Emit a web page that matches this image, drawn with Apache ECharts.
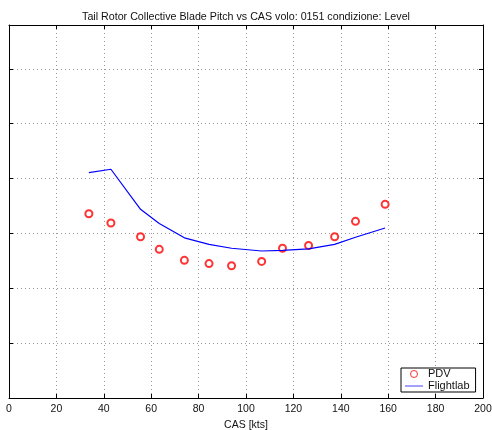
<!DOCTYPE html>
<html>
<head>
<meta charset="utf-8">
<style>
  html, body { margin: 0; padding: 0; background: #fff; }
  #chart { width: 492px; height: 430px; }
</style>
<script src="https://cdn.jsdelivr.net/npm/echarts@6/dist/echarts.min.js"></script>
</head>
<body>
<div id="chart"></div>
<script>
// Calibrated airspeed [kts] of each test point
const cas = [33.7, 43.0, 55.5, 63.4, 74.0, 84.4, 93.9, 106.6, 115.4, 126.4, 137.4, 146.2, 158.7];
// Measured tail rotor collective (PDV)
const pdv = [3.36, 3.19, 2.94, 2.71, 2.51, 2.45, 2.41, 2.49, 2.73, 2.78, 2.94, 3.22, 3.53];
// Simulated tail rotor collective (Flightlab)
const flightlab = [4.11, 4.17, 3.44, 3.18, 2.92, 2.80, 2.73, 2.68, 2.69, 2.72, 2.80, 2.93, 3.10];
const xTicks = [0, 20, 40, 60, 80, 100, 120, 140, 160, 180, 200];

const FONT = 'Liberation Sans, Arial, Helvetica, sans-serif';
const chart = echarts.init(document.getElementById('chart'), null, { renderer: 'canvas' });

// Mirror axes that close the plot box (ticks only, no labels)
const boxAxis = {
  axisLine: { show: true, onZero: false, lineStyle: { color: '#000', width: 1 } },
  axisTick: { show: true, inside: true, length: 4, lineStyle: { color: '#000' } },
  axisLabel: { show: false },
  splitLine: { show: false }
};

chart.setOption({
  animation: false,
  backgroundColor: '#fff',
  textStyle: { fontFamily: FONT },
  title: {
    text: 'Tail Rotor Collective Blade Pitch vs CAS volo: 0151 condizione: Level',
    left: 'center',
    top: 7,
    textStyle: { fontSize: 10.7, fontWeight: 'normal', color: '#111', fontFamily: FONT }
  },
  grid: { left: 9, right: 9, top: 25, bottom: 32, containLabel: false, outerBoundsMode: 'none' },
  xAxis: [
    {
      type: 'value', min: 0, max: 200, interval: 20, position: 'bottom',
      name: 'CAS [kts]', nameLocation: 'middle', nameGap: 18,
      nameTextStyle: { fontSize: 10.5, color: '#111', fontFamily: FONT },
      axisLine: { show: true, onZero: false, lineStyle: { color: '#000', width: 1 } },
      axisTick: { show: true, inside: true, length: 4, lineStyle: { color: '#000' } },
      axisLabel: {
        fontSize: 10.5, color: '#111', margin: 6, fontFamily: FONT,
        formatter: v => (xTicks.includes(v) ? String(v) : '')
      },
      splitLine: { show: true, lineStyle: { color: '#999', type: [1, 3], width: 1 } }
    },
    Object.assign({ type: 'value', min: 0, max: 200, interval: 20, position: 'top' }, boxAxis)
  ],
  yAxis: [
    {
      type: 'value', min: 0, max: 6.8, interval: 1, position: 'left',
      axisLine: { show: true, onZero: false, lineStyle: { color: '#000', width: 1 } },
      axisTick: { show: true, inside: true, length: 4, lineStyle: { color: '#000' } },
      axisLabel: { show: false },
      splitLine: { show: true, lineStyle: { color: '#999', type: [1, 3], width: 1 } }
    },
    Object.assign({ type: 'value', min: 0, max: 6.8, interval: 1, position: 'right' }, boxAxis)
  ],
  legend: {
    orient: 'vertical',
    left: 401,
    top: 368,
    backgroundColor: '#fff',
    borderColor: '#000',
    borderWidth: 1,
    borderRadius: 0,
    padding: [0, 6, 0, 4],
    itemGap: 0,
    itemWidth: 18,
    itemHeight: 7,
    align: 'left',
    textStyle: { fontSize: 11, color: '#111', fontFamily: FONT, padding: [0, 0, 0, 0], lineHeight: 12 },
    data: [
      {
        name: 'PDV', icon: 'circle',
        itemStyle: { color: 'rgba(0,0,0,0)', borderColor: '#f00', borderWidth: 1 }
      },
      {
        name: 'Flightlab', icon: 'path://M0,0 L22,0 L22,1.6 L0,1.6 Z',
        itemStyle: { color: '#6f6fff', borderWidth: 0 }
      }
    ]
  },
  series: [
    {
      name: 'PDV',
      type: 'scatter',
      symbol: 'emptyCircle',
      symbolSize: 7,
      itemStyle: { color: '#f00', borderColor: '#f00', borderWidth: 1 },
      data: cas.map((c, i) => [c, pdv[i]])
    },
    {
      name: 'Flightlab',
      type: 'line',
      symbol: 'none',
      lineStyle: { color: '#00f', width: 1.2 },
      itemStyle: { color: '#00f' },
      data: cas.map((c, i) => [c, flightlab[i]])
    }
  ]
});
</script>
</body>
</html>
